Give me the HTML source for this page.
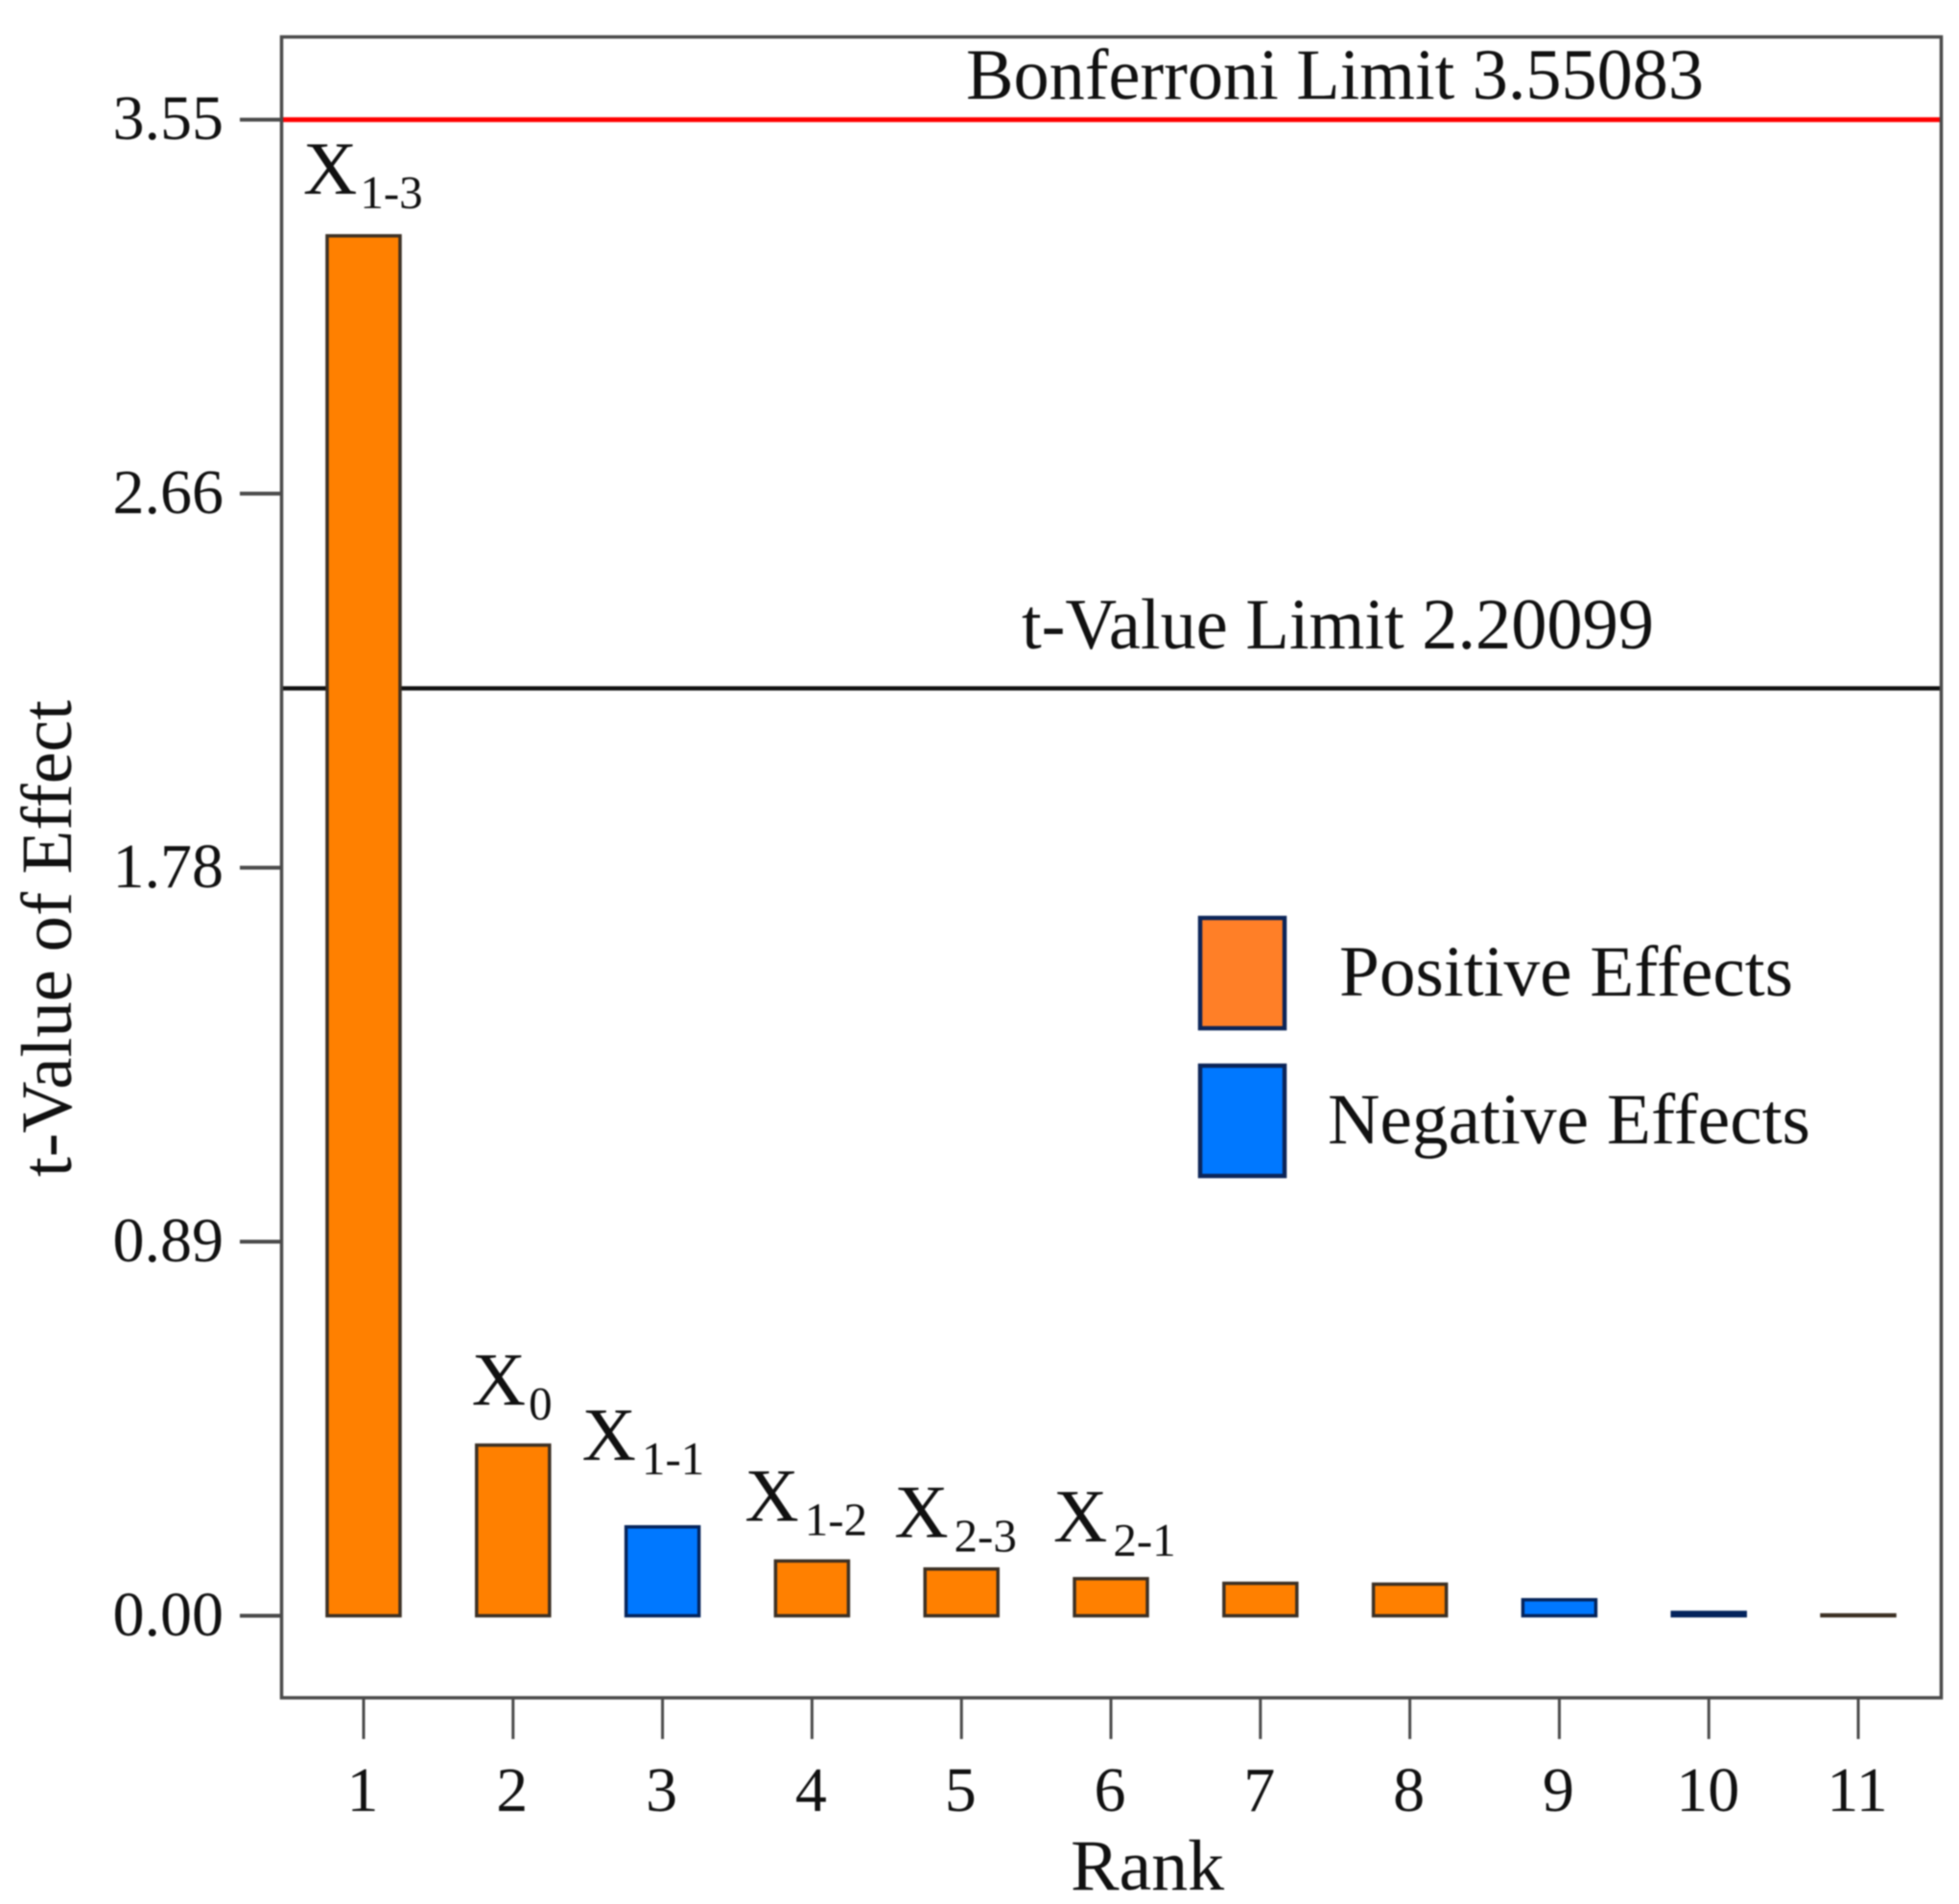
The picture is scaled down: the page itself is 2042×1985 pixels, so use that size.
<!DOCTYPE html>
<html lang="en">
<head>
<meta charset="utf-8">
<title>t-Value of Effect Pareto Chart</title>
<style>
  html, body { margin: 0; padding: 0; background: #fff; }
  #chart { display: block; width: 2042px; height: 1985px; filter: blur(0.7px); }
  text { font-family: "Liberation Serif", "Times New Roman", serif; fill: #111; }
</style>
</head>
<body>
<svg id="chart" xmlns="http://www.w3.org/2000/svg" width="2042" height="1985" viewBox="0 0 2042 1985">
  <rect x="0" y="0" width="2042" height="1985" fill="#fff"/>
  <g id="ref-lines"></g>
  <g id="bars"></g>
  <rect x="293.5" y="38.5" width="1730" height="1731.5" fill="none" stroke="#4a4a4a" stroke-width="3.5"/>
  <g id="y-axis"></g>
  <g id="x-axis"></g>
  <g id="bar-labels"></g>
  <text x="1007" y="103" font-size="75" textLength="769" lengthAdjust="spacingAndGlyphs">Bonferroni Limit 3.55083</text>
  <text x="1065" y="676" font-size="75" textLength="659" lengthAdjust="spacingAndGlyphs">t-Value Limit 2.20099</text>
  <text transform="translate(74,1227) rotate(-90)" x="0" y="0" font-size="75" textLength="497" lengthAdjust="spacingAndGlyphs">t-Value of Effect</text>
  <text x="1116" y="1970" font-size="75" textLength="160" lengthAdjust="spacingAndGlyphs">Rank</text>
  <g>
    <rect x="1251" y="957" width="88" height="115" fill="#FF7F27" stroke="#0B2559" stroke-width="4.5"/>
    <text x="1396" y="1038" font-size="75" textLength="473" lengthAdjust="spacingAndGlyphs">Positive Effects</text>
    <rect x="1251" y="1111" width="88" height="115" fill="#0078FF" stroke="#0B2559" stroke-width="4.5"/>
    <text x="1384" y="1192" font-size="75" textLength="503" lengthAdjust="spacingAndGlyphs">Negative Effects</text>
  </g>
</svg>
<script>
// Chart data
const ranks = [1, 2, 3, 4, 5, 6, 7, 8, 9, 10, 11];
const tValues = [3.275, 0.405, 0.211, 0.130, 0.111, 0.088, 0.077, 0.075, 0.038, 0.008, 0.002];
const effectSigns = ['+', '+', '-', '+', '+', '+', '+', '+', '-', '-', '+'];
const yTickValues = [0, 0.8877, 1.7754, 2.6631, 3.55083];
const yTickLabels = ['0.00', '0.89', '1.78', '2.66', '3.55'];
const bonferroniLimit = 3.55083;
const tValueLimit = 2.20099;
const termNames = ['1-3', '0', '1-1', '1-2', '2-3', '2-1'];

// Axis functions
const xScale = r => 379 + (r - 1) * 155.8;
const yScale = v => 1684.5 - v * 439.28;

const NS = 'http://www.w3.org/2000/svg';
function make(tag, attrs) {
  const el = document.createElementNS(NS, tag);
  for (const k in attrs) el.setAttribute(k, attrs[k]);
  return el;
}

// Reference lines
const refLines = document.getElementById('ref-lines');
const redLine = make('line', { x1: 293.5, x2: 2023.5, y1: yScale(bonferroniLimit), y2: yScale(bonferroniLimit), stroke: '#FF0000', 'stroke-width': 5 });


refLines.appendChild(redLine);
const blackLine = make('line', { x1: 293.5, x2: 2023.5, y1: yScale(tValueLimit), y2: yScale(tValueLimit), stroke: '#111', 'stroke-width': 4.5 });


refLines.appendChild(blackLine);

// Bars
const barWidth = 76;
const barsGroup = document.getElementById('bars');
ranks.forEach((r, i) => {
  const neg = effectSigns[i] === '-';
  const top = yScale(tValues[i]);
  const bar = make('rect', {
    x: xScale(r) - barWidth / 2, y: top, width: barWidth, height: yScale(0) - top,
    fill: neg ? '#0078FF' : '#FF8000', stroke: neg ? '#04245C' : '#3C3024', 'stroke-width': 3.5
  });
  
  
  barsGroup.appendChild(bar);
});

// Y axis
const yAxis = document.getElementById('y-axis');
yTickValues.forEach((v, i) => {
  const tick = make('line', { x1: 250, x2: 293.5, y1: yScale(v), y2: yScale(v), stroke: '#4a4a4a', 'stroke-width': 4 });
  
  
  yAxis.appendChild(tick);
  const label = make('text', { x: 233, y: yScale(v) + 20.5, 'text-anchor': 'end', 'font-size': 66 });
  
  
  label.textContent = yTickLabels[i];
  yAxis.appendChild(label);
});

// X axis
const xAxis = document.getElementById('x-axis');
ranks.forEach(r => {
  const tick = make('line', { x1: xScale(r), x2: xScale(r), y1: 1770, y2: 1813, stroke: '#4a4a4a', 'stroke-width': 3 });
  
  
  xAxis.appendChild(tick);
  const label = make('text', { x: xScale(r) - 1, y: 1888, 'text-anchor': 'middle', 'font-size': 66 });
  
  
  label.textContent = String(r);
  xAxis.appendChild(label);
});

// Term labels above the six largest bars (placement relative to each bar)
const labelShiftX = [-63, -43, -84, -70, -70, -60];
const labelLift = [44, 42, 70, 42, 33, 39];
const labelSubGap = [3, 3, 6, 6, 6, 6];
const labelsGroup = document.getElementById('bar-labels');
termNames.forEach((term, i) => {
  const label = make('text', { x: xScale(ranks[i]) + labelShiftX[i], y: yScale(tValues[i]) - labelLift[i], 'font-size': 78 });
  
  
  label.appendChild(document.createTextNode('X'));
  const sub = make('tspan', { dy: 15, dx: labelSubGap[i], 'font-size': 49 });
  sub.textContent = term;
  label.appendChild(sub);
  labelsGroup.appendChild(label);
});
</script>
</body>
</html>
